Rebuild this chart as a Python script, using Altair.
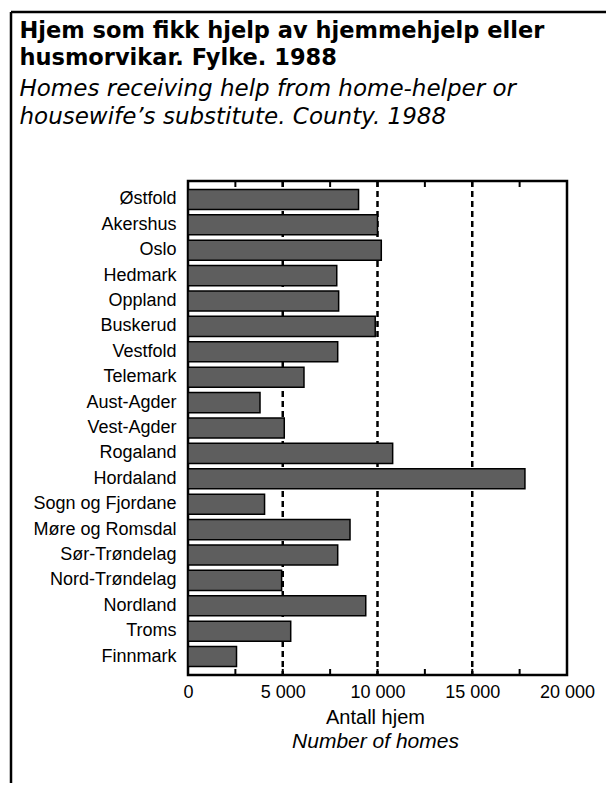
import altair as alt
import pandas as pd

# ---- data ----
counties = ["Østfold", "Akershus", "Oslo", "Hedmark", "Oppland", "Buskerud",
            "Vestfold", "Telemark", "Aust-Agder", "Vest-Agder", "Rogaland",
            "Hordaland", "Sogn og Fjordane", "Møre og Romsdal", "Sør-Trøndelag",
            "Nord-Trøndelag", "Nordland", "Troms", "Finnmark"]
homes = [9000, 10000, 10200, 7850, 7950, 9880, 7900, 6120, 3800, 5080,
         10800, 17780, 4040, 8550, 7900, 4940, 9380, 5420, 2560]

grid_values = [5000, 10000, 15000]
tick_values = [2500, 5000, 7500, 10000, 12500, 15000, 17500]
label_values = [0, 5000, 10000, 15000, 20000]

title_lines = ["Hjem som fikk hjelp av hjemmehjelp eller", "husmorvikar. Fylke. 1988"]
subtitle_lines = ["Homes receiving help from home-helper or",
                  "housewife\u2019s substitute. County. 1988"]
axis_title_no = "Antall hjem"
axis_title_en = "Number of homes"

W, H = 379, 494
FONT = "Liberation Sans"
TFONT = "DejaVu Sans"

df = pd.DataFrame({"county": counties, "homes": homes})
df_grid = pd.DataFrame({"v": grid_values})
df_ticks = pd.DataFrame({"v": tick_values})
one = alt.Data(values=[{"a": 1}])

x_scale = alt.Scale(domain=[0, 20000], nice=False)
x_axis = alt.Axis(values=label_values,
                  labelExpr="replace(format(datum.value, ','), ',', ' ')",
                  ticks=False, domain=False, grid=False, title=None,
                  labelFontSize=18, labelFont=FONT, labelColor="black",
                  labelFlush=False, labelOverlap=False,
                  labelPadding=8)

grid = alt.Chart(df_grid).mark_rule(color="black", strokeWidth=2.5, strokeDash=[6, 4]).encode(
    x=alt.X("v:Q", scale=x_scale, axis=x_axis),
    y=alt.value(0), y2=alt.value(H),
)

ticks_bottom = alt.Chart(df_ticks).mark_rule(color="black", strokeWidth=2).encode(
    x=alt.X("v:Q", scale=x_scale, axis=x_axis),
    y=alt.value(H - 6), y2=alt.value(H),
)
ticks_top = alt.Chart(df_ticks).mark_rule(color="black", strokeWidth=2).encode(
    x=alt.X("v:Q", scale=x_scale, axis=x_axis),
    y=alt.value(0), y2=alt.value(6),
)

bars = alt.Chart(df).mark_bar(color="#5e5e5e", stroke="black", strokeWidth=1.5).encode(
    x=alt.X("homes:Q", scale=x_scale, axis=x_axis),
    y=alt.Y("county:N", sort=counties,
            scale=alt.Scale(paddingInner=0.21, paddingOuter=0.33),
            axis=alt.Axis(title=None, ticks=False, domain=False,
                          labelFontSize=18, labelFont=FONT, labelColor="black",
                          labelPadding=12)),
)


def txt(s, x, y, size, weight="normal", style="normal", font=FONT, align="left"):
    return alt.Chart(one).mark_text(
        align=align, baseline="alphabetic", font=font, fontSize=size,
        fontWeight=weight, fontStyle=style, color="black"
    ).encode(x=alt.value(x), y=alt.value(y), text=alt.value(s))


texts = [
    txt(title_lines[0], -168.5, -143.5, 22.5, weight="bold", font=TFONT),
    txt(title_lines[1], -168.5, -116.5, 22.5, weight="bold", font=TFONT),
    txt(subtitle_lines[0], -168.5, -85, 23, style="italic", font=TFONT),
    txt(subtitle_lines[1], -168.5, -57, 23, style="italic", font=TFONT),
    txt(axis_title_no, W / 2 - 2, 543, 20, align="center"),
    txt(axis_title_en, W / 2 - 2, 567, 21, style="italic", align="center"),
]

frame_top = alt.Chart(one).mark_rule(color="black", strokeWidth=2.5).encode(
    x=alt.value(-177), x2=alt.value(418), y=alt.value(-169))
frame_left = alt.Chart(one).mark_rule(color="black", strokeWidth=2.5).encode(
    x=alt.value(-177), y=alt.value(-169), y2=alt.value(602))

chart = alt.layer(grid, ticks_bottom, ticks_top, bars, frame_top, frame_left, *texts).properties(
    width=W, height=H,
    autosize=alt.AutoSizeParams(type="none"),
    padding={"left": 180, "top": 173, "right": 39, "bottom": 108},
    background="white",
).configure_view(stroke="black", strokeWidth=2.5)

chart.save("out.html", embed_options={"renderer": "svg", "actions": False})
